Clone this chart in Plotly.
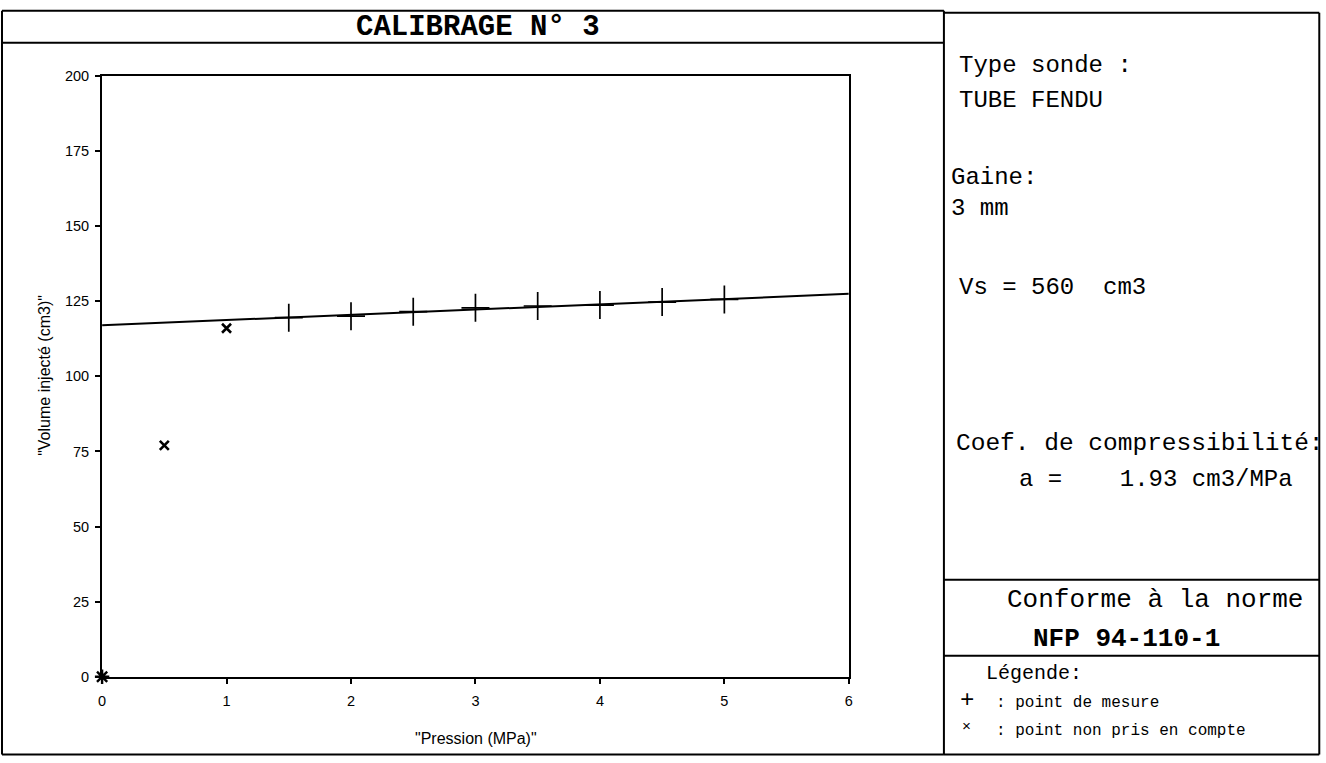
import numpy as np
import plotly.graph_objects as go

W, H = 1326, 763

# ---- data ----
pression_mesure = [1.5, 2.0, 2.5, 3.0, 3.5, 4.0, 4.5, 5.0]
volume_mesure = [119.5, 120.0, 121.5, 122.8, 123.4, 123.7, 124.7, 125.6]
pression_exclus = [0.5, 1.0]
volume_exclus = [77.0, 116.0]
pression_origine = [0.0]
volume_origine = [0.0]
x_range = [0, 6]
y_range = [0, 200]
x_ticks = [0, 1, 2, 3, 4, 5, 6]
y_ticks = [0, 25, 50, 75, 100, 125, 150, 175, 200]

# linear fit through measured points
pente, origine = np.polyfit(pression_mesure, volume_mesure, 1)
fit_x = np.array(x_range, dtype=float)
fit_y = pente * fit_x + origine

# screen-pixel -> figure-pixel calibration (page is displayed slightly scaled)
SX, OX = 0.993, 4.0
SY, OY = 0.979, 7.2


def fx(s):
    return (s - OX) / SX


def fy(s):
    return min(max((s - OY) / SY, 0.5), H - 0.5)


def px(s):
    return fx(s) / W


def py(s):
    return 1 - fy(s) / H


fig = go.Figure()
fig.add_trace(go.Scatter(x=fit_x, y=fit_y, mode="lines",
                         line=dict(color="black", width=2), showlegend=False,
                         hoverinfo="skip"))
fig.add_trace(go.Scatter(x=pression_mesure, y=volume_mesure, mode="markers",
                         marker=dict(symbol="cross-thin", size=20, color="black",
                                     line=dict(color="black", width=1.7)),
                         showlegend=False, cliponaxis=False))
fig.add_trace(go.Scatter(x=pression_exclus, y=volume_exclus, mode="markers",
                         marker=dict(symbol="x-thin", size=9, color="black",
                                     line=dict(color="black", width=2.6)),
                         showlegend=False, cliponaxis=False))
fig.add_trace(go.Scatter(x=pression_origine, y=volume_origine, mode="markers",
                         marker=dict(symbol="asterisk-open", size=12, color="black",
                                     line=dict(color="black", width=2.4)),
                         showlegend=False, cliponaxis=False))

axis_font = dict(family="Liberation Sans, Arial", size=14.5, color="black")
fig.update_xaxes(domain=[px(102), px(848)], range=x_range, tickvals=x_ticks,
                 ticks="outside", ticklen=5, tickwidth=1.5, tickcolor="black",
                 ticklabelstandoff=5,
                 showline=True, linecolor="black", linewidth=2, mirror=True,
                 showgrid=False, zeroline=False, tickfont=axis_font)
fig.update_yaxes(domain=[py(676), py(75)], range=y_range, tickvals=y_ticks,
                 ticks="outside", ticklen=5, tickwidth=1.5, tickcolor="black",
                 ticklabelstandoff=3,
                 showline=True, linecolor="black", linewidth=2, mirror=True,
                 showgrid=False, zeroline=False, tickfont=axis_font)

shapes = []


def seg(x0, y0, x1, y1, w=2):
    shapes.append(dict(type="line", xref="paper", yref="paper",
                       x0=px(x0), y0=py(y0), x1=px(x1), y1=py(y1),
                       line=dict(color="black", width=w)))


# left panel frame
seg(2, 10, 943, 10)
seg(2, 42, 943, 42)
seg(2, 10, 2, 760)
seg(2, 760, 943, 760)
# right panel frame
seg(943, 12, 1318, 12)
seg(943, 10, 943, 760)
seg(1318, 12, 1318, 760)
seg(943, 760, 1318, 760)
seg(943, 579, 1318, 579)
seg(943, 655, 1318, 655)

annotations = []
mono = "Liberation Mono, Courier New, monospace"


def txt(x, y, s, size, anchor="left", family=mono, angle=0):
    annotations.append(dict(x=px(x), y=py(y), xref="paper", yref="paper",
                            text=s, showarrow=False, xanchor=anchor,
                            yanchor="middle", textangle=angle,
                            font=dict(family=family, size=size, color="black")))


txt(478, 27, "<b>CALIBRAGE N° 3</b>", 29, anchor="center")
txt(956, 65, "Type sonde :", 24)
txt(956, 100, "TUBE FENDU", 24)
txt(948, 177, "Gaine:", 24)
txt(948, 208, "3 mm", 24)
txt(956, 287, "Vs = 560  cm3", 24)
txt(953, 443, "Coef. de compressibilité:", 24.5)
txt(1016, 479, "a =    1.93 cm3/MPa", 24)
txt(1154, 599, "Conforme à la norme", 26, anchor="center")
txt(1125, 638, "<b>NFP 94-110-1</b>", 26, anchor="center")
txt(983, 673, "Légende:", 20)
txt(966, 700, "+", 24, anchor="center")
txt(993, 702, ": point de mesure", 16)
txt(966, 727, "×", 15, anchor="center")
txt(993, 730, ": point non pris en compte", 16)

sans = "Liberation Sans, Arial"
txt(476, 738, '"Pression (MPa)"', 16, anchor="center", family=sans)
txt(45, 375, '"Volume injecté (cm3)"', 16, anchor="center", family=sans, angle=-90)

fig.update_layout(width=W, height=H, margin=dict(l=0, r=0, t=0, b=0),
                  paper_bgcolor="white", plot_bgcolor="white",
                  shapes=shapes, annotations=annotations, showlegend=False)

fig.write_html(
    "out.html",
    config={"displayModeBar": False},
    post_script="document.body.style.margin='0';document.body.style.overflow='hidden';",
)
